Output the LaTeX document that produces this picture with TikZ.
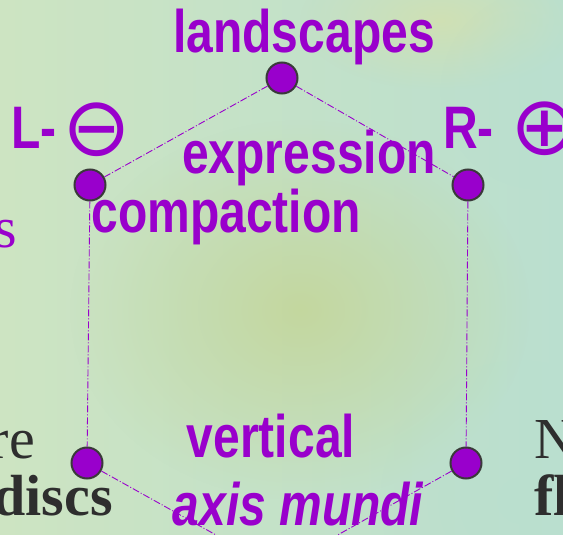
\documentclass[tikz,border=0pt]{standalone}
\usepackage{fontspec}
\usetikzlibrary{fadings}
\newfontfamily\hexsans{Liberation Sans}[FakeStretch=0.8]
\newfontfamily\hexserif{Liberation Serif}
\newfontfamily\hexsym{DejaVu Sans}
\definecolor{hexpurple}{HTML}{9900CC}
\definecolor{hexgray}{HTML}{2E2E2E}
\definecolor{dotrim}{HTML}{3A3A3A}
\definecolor{bgA}{HTML}{CDE4C2}
\definecolor{bgB}{HTML}{BADFCF}
\definecolor{bgC}{HTML}{C4D69A}
\definecolor{bgD}{HTML}{D4E0AE}
\tikzfading[name=softblob, inner color=transparent!0, outer color=transparent!100]
\tikzset{
  lbl/.style={font=\hexsans\bfseries\fontsize{60}{60}\selectfont, text=hexpurple, inner sep=0pt, anchor=base},
  lbli/.style={lbl, font=\hexsans\bfseries\itshape\fontsize{60}{60}\selectfont},
  symb/.style={font=\hexsym\fontsize{82}{82}\selectfont, text=hexpurple, inner sep=0pt, anchor=center},
  vertexdot/.style={circle, fill=hexpurple, draw=dotrim, line width=2pt, minimum size=31pt, inner sep=0pt},
  hexedge/.style={draw=hexpurple, line width=0.9pt, dash pattern=on 7pt off 2pt on 1pt off 2pt},
  sidetxt/.style={font=\hexserif\fontsize{58}{58}\selectfont, text=hexgray, inner sep=0pt},
  sidetxtb/.style={sidetxt, font=\hexserif\bfseries\fontsize{58}{58}\selectfont},
}
\begin{document}
\begin{tikzpicture}[x=1pt, y=-1pt]
  \useasboundingbox (0,0) rectangle (563,535);
  \begin{scope}
    \clip (0,0) rectangle (563,535);
    % background
    \shade[left color=bgA, right color=bgB] (0,0) rectangle (563,535);
    \fill[bgC, path fading=softblob, opacity=0.9] (300,310) ellipse (230pt and 190pt);
    \fill[bgD, path fading=softblob, opacity=0.8] (440,20) ellipse (140pt and 70pt);
    \fill[bgB, path fading=softblob, opacity=0.6] (540,90) circle (100pt);
    \fill[bgB, path fading=softblob, opacity=0.6] (520,500) circle (140pt);

    % vertices
    \node[vertexdot] (top) at (282,78) {};
    \node[vertexdot] (ul) at (90,185) {};
    \node[vertexdot] (ur) at (468,185) {};
    \node[vertexdot] (ll) at (87,463) {};
    \node[vertexdot] (lr) at (466,463) {};
    \coordinate (bot) at (277,569);

    % edges
    \draw[hexedge] (top) -- (ul);
    \draw[hexedge] (top) -- (ur);
    \draw[hexedge] (ul) -- (ll);
    \draw[hexedge] (ur) -- (lr);
    \draw[hexedge] (ll) -- (bot);
    \draw[hexedge] (lr) -- (bot);

    % labels
    \node[lbl] (landscapes) at (304,53) {landscapes};
    \node[lbl] (expression) at (309,173) {expression};
    \node[lbl] (compaction) at (226,232) {compaction};
    \node[lbl] (vertical) at (271,457) {vertical};
    \node[lbli] (axis) at (298,525) {axis mundi};
    \node[lbl, anchor=base west] (Lminus) at (11,148) {L-};
    \node[symb] (ominus) at (97,130) {⊖};
    \node[lbl, anchor=base west] (Rplus) at (443,149) {R-};
    \node[symb] (oplus) at (545,129) {⊕};

    % cut-off side texts
    \node[sidetxt, text=hexpurple, anchor=base east] (sfrag) at (17,247) {s};
    \node[sidetxt, anchor=base east] (refrag) at (35,458) {re};
    \node[sidetxtb, anchor=base east] (discs) at (113,515) {discs};
    \node[sidetxt, anchor=base west] (Nfrag) at (534,458) {N};
    \node[sidetxtb, anchor=base west] (flfrag) at (534,515) {fl};
  \end{scope}
\end{tikzpicture}
\end{document}
